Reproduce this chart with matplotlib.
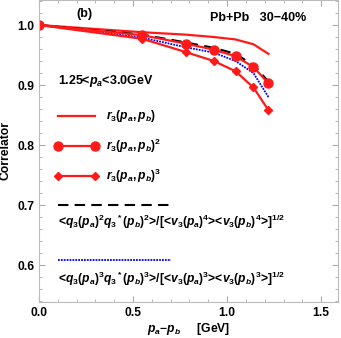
import matplotlib
matplotlib.use("Agg")
import matplotlib.pyplot as plt
from matplotlib.ticker import MultipleLocator, FormatStrFormatter

plt.rcParams['font.family'] = ['Liberation Sans', 'DejaVu Sans']
plt.rcParams['font.weight'] = 'bold'
plt.rcParams['mathtext.fontset'] = 'custom'
plt.rcParams['mathtext.rm'] = 'Liberation Sans:bold'
plt.rcParams['mathtext.it'] = 'Liberation Sans:bold:italic'
plt.rcParams['mathtext.bf'] = 'Liberation Sans:bold'

# data
dp = [0.0, 0.55, 0.78, 0.93, 1.045, 1.14, 1.22]
r3 = [1.0, 0.988, 0.984, 0.980, 0.976, 0.968, 0.952]
r3_sq = [1.0, 0.983, 0.969, 0.959, 0.948, 0.930, 0.903]
r3_cu = [1.0, 0.977, 0.955, 0.940, 0.923, 0.896, 0.858]
q2_ratio = [1.0, 0.984, 0.971, 0.962, 0.952, 0.933, 0.906]
q3_ratio = [1.0, 0.979, 0.963, 0.954, 0.940, 0.920, 0.880]

red = '#ff1a1a'

fig = plt.figure(figsize=(3.41, 3.38), dpi=100)
ax = fig.add_axes([0.1144, 0.107, 0.877, 0.893])

ax.plot(dp, r3, color=red, lw=1.6)
ax.plot(dp, q2_ratio, color='black', lw=1.5, ls=(0, (5, 3)))
ax.plot(dp, q3_ratio, color='blue', lw=1.3, ls=(0, (1, 0.6)))
ax.plot(dp, r3_sq, color=red, lw=1.6, marker='o', ms=6.5)
ax.plot(dp, r3_cu, color=red, lw=1.6, marker='D', ms=4)

# hand-made legend
ax.plot([0.1, 0.3], [0.849, 0.849], color=red, lw=1.6)
ax.text(0.355, 0.849, r'$r_3(p_a,p_b)$', fontsize=8.7, va='center')
ax.plot([0.1, 0.3], [0.798, 0.798], color=red, lw=1.6, marker='o', ms=6.5)
ax.text(0.355, 0.798, r'$r_3(p_a,p_b)^2$', fontsize=8.7, va='center')
ax.plot([0.1, 0.3], [0.749, 0.749], color=red, lw=1.6, marker='D', ms=4)
ax.text(0.355, 0.749, r'$r_3(p_a,p_b)^3$', fontsize=8.7, va='center')
ax.plot([0.1, 0.7], [0.70, 0.70], color='black', lw=1.5, ls=(0, (5, 3)))
ax.text(0.1, 0.672, r'<$q_3(p_a)^2q_3{}^*(p_b)^2$>/[<$v_3(p_a)^4$><$v_3(p_b)^4$>]$^{1/2}$',
        fontsize=8.7, va='center')
ax.plot([0.1, 0.7], [0.609, 0.609], color='blue', lw=1.3, ls=(0, (1, 0.6)))
ax.text(0.1, 0.577, r'<$q_3(p_a)^3q_3{}^*(p_b)^3$>/[<$v_3(p_a)^3$><$v_3(p_b)^3$>]$^{1/2}$',
        fontsize=8.7, va='center')

ax.text(0.24, 1.018, '(b)', fontsize=9, ha='center', va='center')
ax.text(1.42, 1.011, 'Pb+Pb   30\u221240%', fontsize=9, ha='right', va='center')
ax.text(0.1, 0.907, r'1.25<$p_a$<3.0GeV', fontsize=9, va='center')

ax.set_xlim(0, 1.59)
ax.set_ylim(0.539, 1.0417)
ax.xaxis.set_major_locator(MultipleLocator(0.5))
ax.xaxis.set_minor_locator(MultipleLocator(0.1))
ax.yaxis.set_major_locator(MultipleLocator(0.1))
ax.yaxis.set_minor_locator(MultipleLocator(0.02))
ax.tick_params(which='both', direction='in', colors='#aaaaaa', labelcolor='black',
               labelsize=8.7, top=True, right=True)
ax.tick_params(which='major', length=4)
ax.tick_params(which='minor', length=2)
ax.xaxis.set_major_formatter(FormatStrFormatter('%.1f'))
ax.yaxis.set_major_formatter(FormatStrFormatter('%.1f'))
for lab in ax.get_xticklabels() + ax.get_yticklabels():
    lab.set_fontweight('bold')
for s in ax.spines.values():
    s.set_color('#bbbbbb')

ax.set_xlabel(r'$p_a$$-$$p_b$     [GeV]', fontsize=8.7, fontweight='bold', labelpad=2)
ax.set_ylabel('Correlator', fontsize=8.7, fontweight='bold', labelpad=4)

fig.savefig('out.png', dpi=100)
